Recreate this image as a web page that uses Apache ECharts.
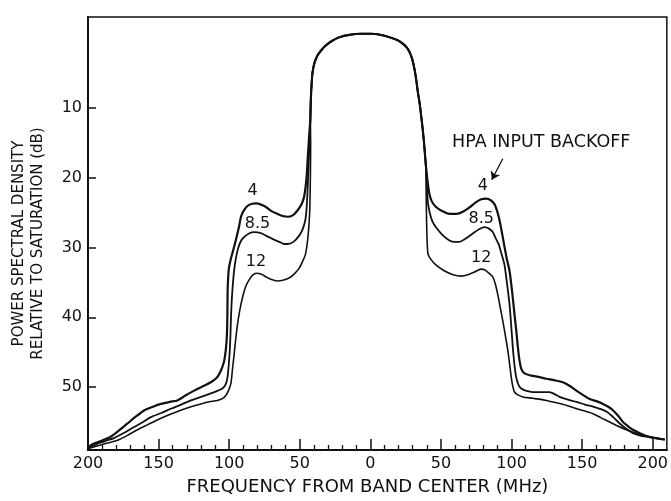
<!DOCTYPE html>
<html>
<head>
<meta charset="utf-8">
<script src="https://cdn.jsdelivr.net/npm/echarts@6.0.0/dist/echarts.min.js"></script>
<style>
  html, body { margin: 0; padding: 0; background: #fff; }
  #main { width: 671px; height: 501px; }
</style>
</head>
<body>
<div id="main"></div>
<script>
// [frequency MHz, dB below saturation]
var core = [[-42.5, 11.5], [-42.2, 9], [-41.6, 6.5], [-40.9, 4.85], [-39.5, 3.5], [-37.4, 2.5], [-34.5, 1.7],
  [-31.5, 1.06], [-27, 0.4], [-22, -0.1], [-15, -0.45], [-6.4, -0.6], [0, -0.6], [6, -0.5], [13.5, -0.1],
  [19, 0.3], [22.9, 0.8], [25.5, 1.3], [27.7, 2], [29.6, 3], [31.2, 4.4], [32.5, 6], [33.6, 7.7], [35, 9.5],
  [35.9, 11], [37.2, 13.3], [38.3, 15.7], [39.2, 18]];

var left4 = [[-200, 58.8], [-198, 58.3], [-192, 57.8], [-184, 57.1], [-178, 56.2], [-172, 55.2], [-166, 54.2],
  [-160, 53.3], [-154, 52.8], [-148.4, 52.4], [-142, 52.1], [-136.7, 51.9], [-131, 51.2], [-124.8, 50.5],
  [-119, 49.9], [-113, 49.3], [-109, 48.7], [-107, 48.1], [-105, 47.2], [-103.5, 46.2], [-102.3, 44.5],
  [-101.6, 42.5], [-101.3, 40], [-101.2, 38], [-101, 35.5], [-100.2, 33], [-98.8, 31.6], [-97, 30.3],
  [-95, 28.7], [-93, 27], [-91.5, 25.5], [-89, 24.5], [-86, 23.9], [-81, 23.7], [-77, 23.9], [-74, 24.2],
  [-70, 24.8], [-65.7, 25.2], [-62, 25.5], [-58.6, 25.6], [-55, 25.4], [-51.6, 24.7], [-48.5, 23.7],
  [-46.8, 22.6], [-45.2, 20], [-44.3, 17], [-43.5, 14.5]];
var right4 = [[40.5, 20.5], [41.8, 22.3], [43.5, 23.4], [46.5, 24.2], [51, 24.8], [56, 25.2], [61, 25.2],
  [65.5, 24.9], [70, 24.3], [74.9, 23.5], [78.5, 23.1], [82, 23], [85, 23.2], [87.9, 23.8], [89.8, 24.8],
  [91.5, 26.1], [93.3, 28], [95, 29.9], [96.5, 31.5], [98.6, 33.4], [100.5, 36.5], [102.1, 39.6], [103.4, 42],
  [104.5, 44.3], [105.5, 46], [106.9, 47.4], [109, 48], [112.8, 48.3], [118, 48.5], [124.6, 48.8], [130, 49],
  [136.4, 49.3], [141, 49.8], [145.9, 50.5], [150.5, 51.1], [155.3, 51.7], [160, 52], [164.8, 52.4],
  [168.5, 52.8], [171.8, 53.3], [175.5, 54.1], [178.9, 55], [182.5, 55.6], [186, 56.1], [191, 56.6],
  [195.5, 57], [202, 57.3], [208.5, 57.5]];

var left85 = [[-200, 58.8], [-192, 58], [-186, 57.6], [-181.6, 57.3], [-174, 56.5], [-167.4, 55.7], [-161, 55],
  [-155.5, 54.3], [-148, 53.7], [-141.4, 53.1], [-134, 52.5], [-127.2, 51.9], [-120, 51.4], [-113, 50.9],
  [-108, 50.5], [-104.8, 50.2], [-102.5, 49.6], [-101.2, 48.6], [-100.3, 46.8], [-99.6, 44.8], [-99.1, 42.5],
  [-98.8, 40.5], [-98.3, 38], [-97.6, 35.8], [-96.6, 33.5], [-95.3, 31.6], [-93.5, 30], [-91.5, 29],
  [-89.4, 28.5], [-86, 28], [-82.3, 27.8], [-78, 27.9], [-74, 28.3], [-69, 28.8], [-64.5, 29.2], [-61, 29.5],
  [-58.6, 29.5], [-54.5, 29.2], [-50.4, 28.3], [-48, 27.4], [-46.1, 26.1], [-45.2, 24.5], [-44.5, 21.9],
  [-43.8, 18.5], [-43.3, 16], [-42.9, 13.5]];
var right85 = [[40.2, 21], [40.6, 23.3], [42, 25], [44, 26.3], [46.5, 27.1], [51, 28.2], [56, 29], [60, 29.2],
  [63.1, 29.2], [67, 28.8], [72.6, 28], [77, 27.4], [80.9, 27.1], [84, 27.3], [86.7, 27.8], [88.8, 28.7],
  [91, 29.6], [93, 31], [95, 32.5], [97, 35.5], [98.6, 38.2], [99.8, 41.3], [100.9, 44.3], [102, 46.7],
  [103.3, 48.6], [105, 49.7], [106.9, 50.2], [110, 50.5], [115.1, 50.7], [121, 50.7], [127, 50.7],
  [130.5, 51], [134, 51.4], [140, 51.8], [145.9, 52.1], [152, 52.5], [157.7, 52.8], [162.5, 53.1],
  [167.2, 53.5], [172, 54.3], [176.6, 55.2], [181.5, 56], [186, 56.6], [190.5, 56.9], [195.5, 57.1],
  [202, 57.3], [208.5, 57.5]];

var left12 = [[-200, 58.8], [-190, 58.2], [-184, 57.9], [-179, 57.6], [-172, 56.9], [-165, 56.1], [-158, 55.4],
  [-150.9, 54.7], [-143, 54], [-134.3, 53.3], [-127, 52.8], [-120, 52.4], [-114, 52.1], [-108.3, 51.9],
  [-104.5, 51.6], [-102.4, 51.2], [-100.5, 50.5], [-98.8, 49.5], [-97.7, 47.5], [-96.5, 45.3], [-95.3, 43],
  [-94.1, 41], [-92.5, 39], [-90.6, 37.2], [-88.3, 35.6], [-85.8, 34.6], [-83.5, 34], [-81, 33.7],
  [-77.5, 33.8], [-74, 34.2], [-70, 34.6], [-66, 34.8], [-62, 34.7], [-57, 34.3], [-53.5, 33.7], [-50.5, 33],
  [-48, 32], [-46, 31], [-44.2, 28.5], [-43, 25], [-42.5, 20], [-42.3, 15]];
var right12 = [[39.5, 22], [39.8, 26], [40.2, 29], [40.8, 30.9], [42.5, 31.6], [46.4, 32.5], [52, 33.3],
  [58.6, 33.9], [64.6, 34.1], [69, 33.9], [73.8, 33.5], [78.3, 33.1], [80.9, 33.2], [83.5, 33.6], [86.7, 34.2],
  [88.6, 35.3], [90.3, 36.8], [92, 38.6], [93.8, 40.5], [95.6, 42.6], [97.4, 44.8], [98.7, 46.8], [99.8, 48.6],
  [100.9, 49.9], [102.1, 50.7], [104.5, 51.1], [108, 51.4], [115, 51.6], [124.6, 51.9], [131, 52.2],
  [138.8, 52.6], [148, 53.2], [157.7, 53.8], [163.5, 54.4], [169.5, 55], [175.5, 55.6], [181.3, 56.1],
  [187, 56.5], [193.1, 56.9], [200, 57.2], [208.5, 57.5]];

var backoffs = ['4', '8.5', '12'];
var xTicks = [-200, -150, -100, -50, 0, 50, 100, 150, 200];
var yTicks = [10, 20, 30, 40, 50];

// curve labels and the callout text, placed in data coordinates
var notes = [[-83.5, 21.9, '4'], [-80, 26.6, '8.5'], [-81, 32.1, '12'],
  [79.6, 21.2, '4'], [78.5, 25.9, '8.5'], [78.5, 31.5, '12'],
  [121, 15, 'HPA INPUT BACKOFF']];

var minorTicks = [];
for (var v = -200; v <= 200; v += 10) {
  if (v % 50 !== 0) minorTicks.push(v);
}

var ink = '#111';
var font = 'DejaVu Sans';
var curves = [left4.concat(core, right4), left85.concat(core, right85), left12.concat(core, right12)];
var widths = [2.2, 1.8, 1.6];

var series = curves.map(function (pts, i) {
  return {
    name: backoffs[i],
    type: 'line',
    data: pts,
    showSymbol: false,
    smooth: 0.25,
    lineStyle: { color: ink, width: widths[i] },
    z: 3 - i
  };
});

series.push({
  name: 'notes',
  type: 'scatter',
  data: notes.map(function (n) {
    return { value: n, label: { fontSize: n[2].length > 4 ? 17.5 : 16 } };
  }),
  symbolSize: 1,
  itemStyle: { color: 'rgba(0,0,0,0)', opacity: 1 },
  silent: true,
  label: {
    show: true,
    position: 'inside',
    color: ink,
    fontFamily: font,
    formatter: function (p) { return p.value[2]; }
  },
  markLine: {
    silent: true,
    symbol: ['none', 'arrow'],
    symbolSize: 8,
    label: { show: false },
    lineStyle: { color: ink, width: 1.3, type: 'solid', opacity: 1 },
    data: [[{ coord: [93.8, 17.3] }, { coord: [86, 20.3] }]]
  }
});

var chart = echarts.init(document.getElementById('main'));
chart.setOption({
  animation: false,
  backgroundColor: '#fff',
  grid: {
    left: 88, right: 3, top: 17, bottom: 49,
    show: true, borderColor: ink, borderWidth: 1.5
  },
  xAxis: [{
    type: 'value',
    min: -200, max: 210, interval: 50,
    name: 'FREQUENCY FROM BAND CENTER (MHz)',
    nameLocation: 'middle',
    nameGap: 28,
    nameTextStyle: { color: ink, fontFamily: font, fontSize: 18, padding: [0, 20, 0, 0] },
    axisLine: { onZero: false, lineStyle: { color: ink, width: 2 } },
    axisTick: { inside: true, length: 11, customValues: xTicks, lineStyle: { color: ink, width: 1.5 } },
    axisLabel: {
      customValues: xTicks, margin: 6, color: ink, fontFamily: font, fontSize: 16,
      formatter: function (v) { return String(Math.abs(v)); }
    },
    splitLine: { show: false }
  }, {
    type: 'value',
    position: 'bottom',
    min: -200, max: 210, interval: 50,
    axisLine: { show: false, onZero: false },
    axisTick: { inside: true, length: 5, customValues: minorTicks, lineStyle: { color: ink, width: 1.3 } },
    axisLabel: { show: false },
    splitLine: { show: false }
  }],
  yAxis: {
    type: 'value',
    inverse: true,
    min: -3, max: 59,
    name: 'POWER SPECTRAL DENSITY\nRELATIVE TO SATURATION (dB)',
    nameLocation: 'middle',
    nameRotate: 90,
    nameGap: 40,
    nameTextStyle: { color: ink, fontFamily: font, fontSize: 15, lineHeight: 19, padding: [0, 20, 0, 0] },
    axisLine: { onZero: false, lineStyle: { color: ink, width: 2 } },
    axisTick: { inside: true, length: 8, customValues: yTicks, lineStyle: { color: ink, width: 1.5 } },
    axisLabel: { customValues: yTicks, margin: 6, color: ink, fontFamily: font, fontSize: 16 },
    splitLine: { show: false }
  },
  series: series
});
</script>
</body>
</html>
